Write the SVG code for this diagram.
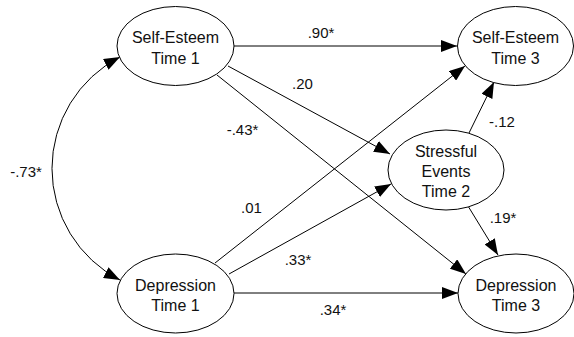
<svg xmlns="http://www.w3.org/2000/svg" width="574" height="337" viewBox="0 0 574 337">
<style>
.node ellipse{fill:#fff;stroke:#000;stroke-width:1}
.node text{font-family:"Liberation Sans",Arial,sans-serif;font-size:16px;text-anchor:middle;fill:#111}
.lbl{font-family:"Liberation Sans",Arial,sans-serif;font-size:15px;text-anchor:middle;fill:#111}
.edge{fill:none;stroke:#000;stroke-width:1;marker-end:url(#arr)}
</style>
<defs>
<marker id="arr" markerWidth="16" markerHeight="12" refX="16" refY="6" orient="auto-start-reverse" markerUnits="userSpaceOnUse">
<path d="M0,0 L16,6 L0,12 z" fill="#000"/>
</marker>
</defs>
<rect width="574" height="337" fill="#fff"/>
<g id="connectors">
<path class="edge" d="M234,46 L457,46"/>
<path class="edge" d="M228,66 L390,154"/>
<path class="edge" d="M217,75 L466,274"/>
<path class="edge" d="M215,263 L465,66"/>
<path class="edge" d="M229,274 L391,184"/>
<path class="edge" d="M234,293 L458,293"/>
<path class="edge" d="M469,133 L494,82"/>
<path class="edge" d="M468,206 L498,255"/>
<path class="edge" style="marker-start:url(#arr)" d="M120,57 A125.4,125.4 0 0 0 120,280"/>
</g>
<g id="labels">
<text class="lbl" x="321" y="38">.90*</text>
<text class="lbl" x="302.5" y="89">.20</text>
<text class="lbl" x="242.5" y="135">-.43*</text>
<text class="lbl" x="26" y="177">-.73*</text>
<text class="lbl" x="251.5" y="213">.01</text>
<text class="lbl" x="298" y="265">.33*</text>
<text class="lbl" x="333" y="315">.34*</text>
<text class="lbl" x="502" y="127">-.12</text>
<text class="lbl" x="503" y="223">.19*</text>
</g>
<g id="se1" class="node">
<ellipse cx="175.5" cy="46" rx="58.5" ry="39.5"/>
<text x="175.5" y="43">Self-Esteem</text>
<text x="175.5" y="63.5">Time 1</text>
</g>
<g id="se3" class="node">
<ellipse cx="515.5" cy="46" rx="58" ry="39.5"/>
<text x="515.5" y="43">Self-Esteem</text>
<text x="515.5" y="63.5">Time 3</text>
</g>
<g id="stress" class="node">
<ellipse cx="446" cy="170" rx="58" ry="40"/>
<text x="446" y="157">Stressful</text>
<text x="446" y="177">Events</text>
<text x="446" y="197">Time 2</text>
</g>
<g id="dep1" class="node">
<ellipse cx="175.5" cy="293.5" rx="58.5" ry="39.5"/>
<text x="175.5" y="290.5">Depression</text>
<text x="175.5" y="310.5">Time 1</text>
</g>
<g id="dep3" class="node">
<ellipse cx="516" cy="293.5" rx="58" ry="39.5"/>
<text x="516" y="290.5">Depression</text>
<text x="516" y="310.5">Time 3</text>
</g>
</svg>
